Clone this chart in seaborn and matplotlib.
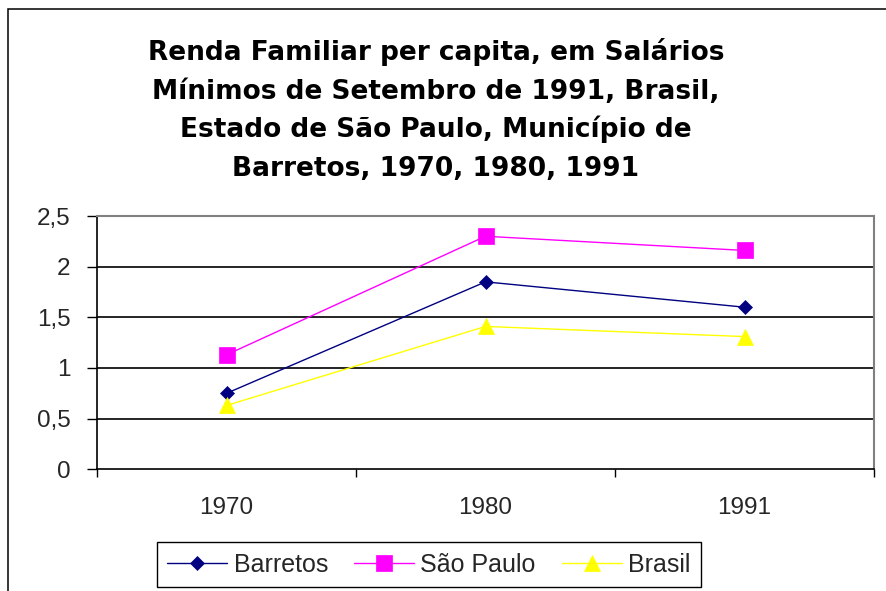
import numpy as np
import pandas as pd
import matplotlib
matplotlib.use("Agg")
import matplotlib.pyplot as plt
from matplotlib.patches import Rectangle
import seaborn as sns

# ---- data ----
years = ["1970", "1980", "1991"]
barretos = [0.75, 1.85, 1.60]
sao_paulo = [1.13, 2.30, 2.16]
brasil = [0.63, 1.41, 1.31]
series_names = ["Barretos", "São Paulo", "Brasil"]
y_ticks = [0, 0.5, 1, 1.5, 2, 2.5]
y_tick_labels = ["0", "0,5", "1", "1,5", "2", "2,5"]
title_lines = [
    "Renda Familiar per capita, em Salários",
    "Mínimos de Setembro de 1991, Brasil,",
    "Estado de São Paulo, Município de",
    "Barretos, 1970, 1980, 1991",
]

sns.set_theme(style="white")
plt.rcParams["font.family"] = ["Liberation Sans", "DejaVu Sans"]

W, H = 886, 591
fig = plt.figure(figsize=(W / 100, H / 100), dpi=100)
fig.patch.set_facecolor("white")

# outer chart frame (cropped at right and bottom)
fig.patches.append(Rectangle((8.3 / W, -0.1), 1.2, 1 - 9.3 / H + 0.1,
                             transform=fig.transFigure, fill=False,
                             edgecolor="black", linewidth=1.1, zorder=0))

left, right, top, bottom = 97, 874, 216, 469.3
ax = fig.add_axes([left / W, 1 - bottom / H, (right - left) / W, (bottom - top) / H])
ax.set_facecolor("white")

pos = np.arange(len(years))
styles = [
    (barretos, "#000080", "D", 7.3),
    (sao_paulo, "#FF00FF", "s", 12),
    (brasil, "#FFFF00", "^", 11),
]
handles = []
for name, (vals, col, mk, ms) in zip(series_names, styles):
    df = pd.DataFrame({"pos": pos, "value": vals})
    sns.lineplot(data=df, x="pos", y="value", ax=ax, color=col, marker=mk,
                 markersize=ms, markeredgecolor=col, markeredgewidth=0.5,
                 linewidth=1.0, legend=False, zorder=3)
    handles.append(ax.lines[-1])

ax.set_xlim(-0.5, len(years) - 0.5)
ax.set_ylim(0, 2.5)
ax.set_xlabel("")
ax.set_ylabel("")

# grid
for yv in y_ticks[1:-1]:
    ax.axhline(yv, color="black", linewidth=1.2, zorder=1)

ax.set_yticks(y_ticks)
ax.set_yticklabels(y_tick_labels, fontsize=17.5)
ax.tick_params(axis="y", direction="out", length=7, width=1, color="black",
               pad=12, left=True, labelsize=17.5)

ax.set_xticks(pos)
ax.set_xticklabels(years, fontsize=17.5)
ax.set_xticks(np.arange(len(years) + 1) - 0.5, minor=True)
ax.tick_params(axis="x", which="major", length=0, pad=20, labelsize=17.5)
ax.tick_params(axis="x", which="minor", direction="out", length=6, width=1,
               color="black", bottom=True)

for s in ["left", "bottom"]:
    ax.spines[s].set_color("black")
    ax.spines[s].set_linewidth(1.2)
for s in ["top", "right"]:
    ax.spines[s].set_color("#808080")
    ax.spines[s].set_linewidth(1.5)
    ax.spines[s].set_visible(True)

# title lines
baselines = [60, 99, 137.5, 176]
for line, b in zip(title_lines, baselines):
    fig.text(436 / W, 1 - b / H, line, ha="center", va="baseline",
             fontsize=19, fontweight="bold", family="DejaVu Sans", color="black")

leg = ax.legend(handles, series_names, loc="center",
                bbox_to_anchor=(429 / W, 1 - 564.5 / H),
                bbox_transform=fig.transFigure, ncol=3, frameon=True,
                fancybox=False, edgecolor="black", framealpha=1,
                prop={"family": "Liberation Sans", "size": 18},
                handlelength=2.4, handletextpad=0.25, columnspacing=1.05,
                borderpad=0.42, borderaxespad=0)
leg.get_frame().set_linewidth(1.0)

fig.savefig("out.png", dpi=100)
